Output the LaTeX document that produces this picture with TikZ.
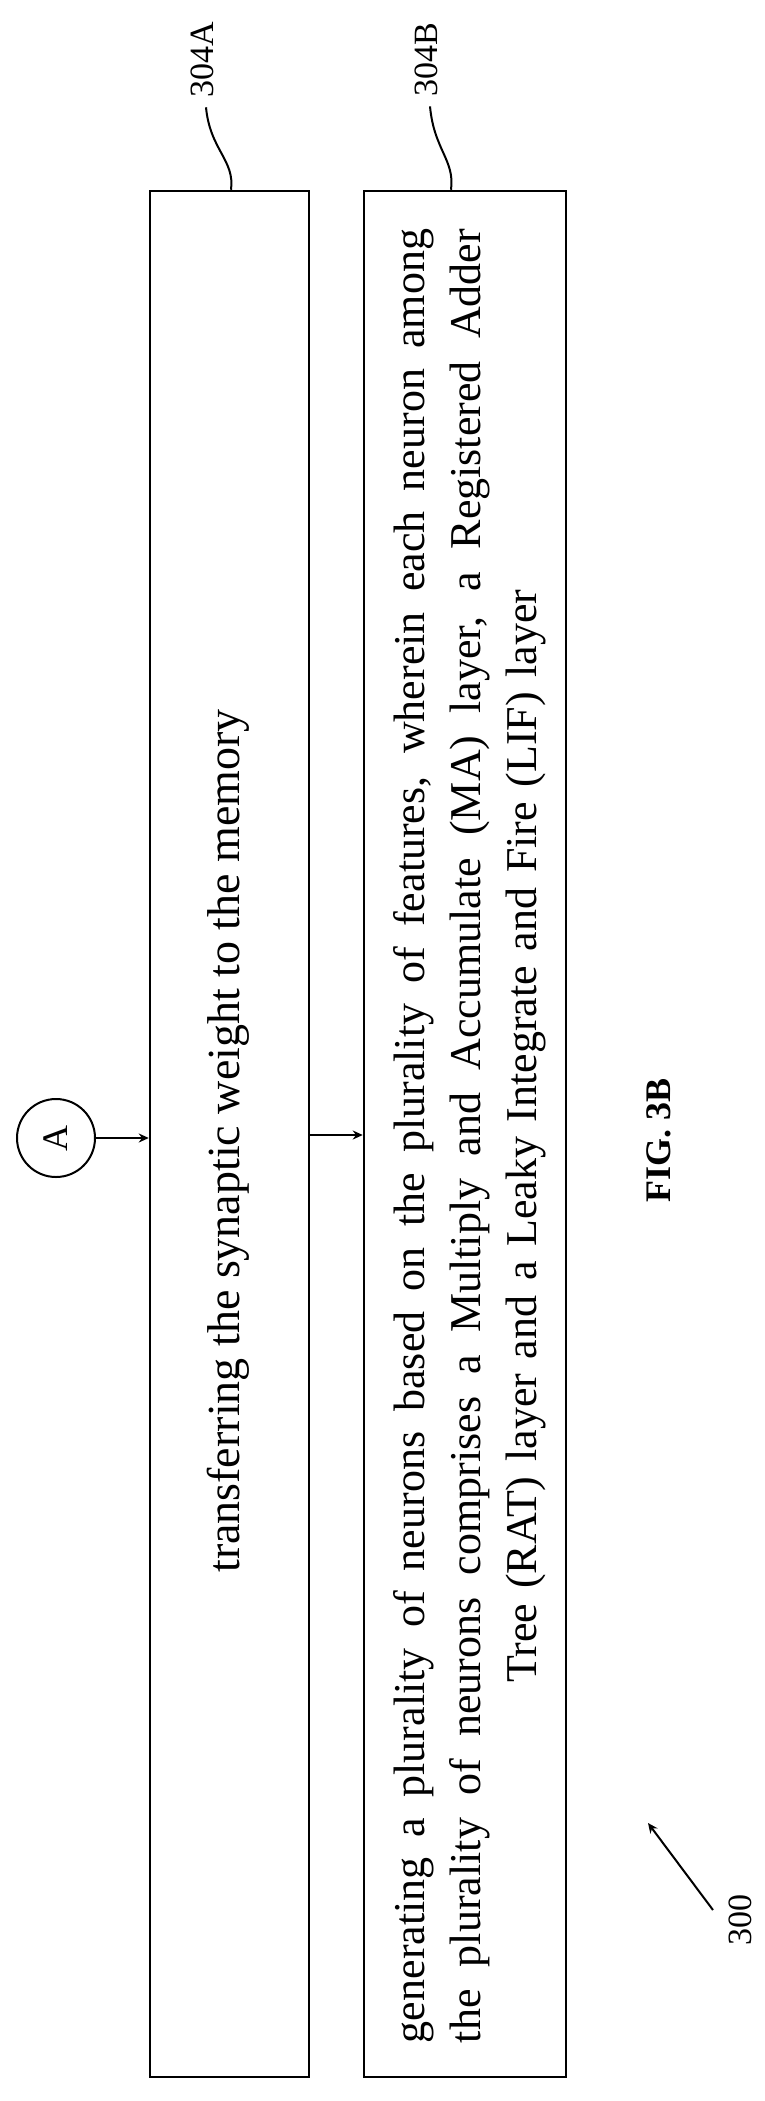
\documentclass[tikz,border=0pt]{standalone}
\usepackage{fontspec}
\setmainfont{Liberation Serif}
\usetikzlibrary{arrows.meta}
\newcommand{\fullline}[1]{\leavevmode\hbox to 1814pt{\spaceskip=.25em plus 1em minus .05em #1}}
\begin{document}
\begin{tikzpicture}[x=1pt,y=-1pt,
  txt/.style={rotate=90,font=\fontsize{44}{56}\selectfont},
  lbl/.style={rotate=90,font=\fontsize{34}{40}\selectfont},
  conn/.style={line width=2pt,-{Stealth[length=10pt,width=9pt]}}]
\useasboundingbox (0,0) rectangle (764,2101);
\node[draw,line width=2.5pt,minimum width=159pt,minimum height=1886pt,inner sep=0] (boxA) at (229.5,1134) {};
\node[draw,line width=2.5pt,minimum width=202pt,minimum height=1886pt,inner sep=0] (boxB) at (465,1134) {};
\node[txt,font=\fontsize{46}{56}\selectfont] (tA) at (228,1141) {transferring the synaptic weight to the memory};
\node[txt,align=center,text width=1814pt,inner sep=0] (tB) at (470,1136) {%
\fullline{generating a plurality of neurons based on the plurality of features, wherein each neuron among}\\
\fullline{the plurality of neurons comprises a Multiply and Accumulate (MA) layer, a Registered Adder}\\
Tree (RAT) layer and a Leaky Integrate and Fire (LIF) layer};
\node[draw,circle,line width=2pt,minimum size=78pt,inner sep=0,font=\fontsize{36}{40}\selectfont] (cA) at (56,1138) {\rotatebox{90}{A}};
\draw[conn] (cA) -- (boxA.west |- cA);
\draw[conn] (boxA.east |- 0,1135) -- (boxB.west |- 0,1135);
\node[lbl] (lA) at (202,60) {304A};
\node[lbl] (lB) at (426,60) {304B};
\draw[line width=2pt] (lA.west) ++(4,6) .. controls (210,150) and (235,160) .. (boxA.north -| 231,0);
\draw[line width=2pt] (lB.west) ++(4,6) .. controls (434,150) and (455,160) .. (boxB.north -| 451,0);
\node[rotate=90,font=\bfseries\fontsize{36}{40}\selectfont] (fig) at (659,1140) {FIG. 3B};
\node[lbl] (n300) at (740,1920) {300};
\coordinate (tip) at (648,1823);
\draw[conn] (713,1910) -- (tip);
\end{tikzpicture}
\end{document}
